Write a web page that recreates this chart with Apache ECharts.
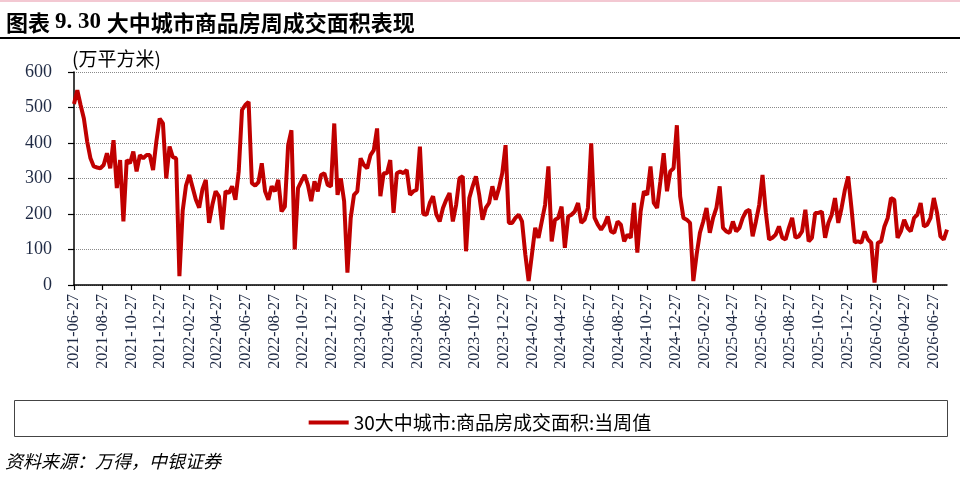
<!DOCTYPE html>
<html>
<head>
<meta charset="utf-8">
<title>30大中城市商品房周成交面积表现</title>
<script src="https://cdn.jsdelivr.net/npm/echarts@6/dist/echarts.min.js"></script>
<style>
  html, body { margin: 0; padding: 0; background: #fff; }
  #chart { width: 960px; height: 498px; }
</style>
</head>
<body>
<div id="chart"></div>
<script>
/* global echarts */
const startDate = '2021-06-27';
const seriesName = '30大中城市:商品房成交面积:当周值';

// x axis tick labels, every 2 months
const tickLabels = [
  '2021-06-27', '2021-08-27', '2021-10-27', '2021-12-27',
  '2022-02-27', '2022-04-27', '2022-06-27', '2022-08-27', '2022-10-27', '2022-12-27',
  '2023-02-27', '2023-04-27', '2023-06-27', '2023-08-27', '2023-10-27', '2023-12-27',
  '2024-02-27', '2024-04-27', '2024-06-27', '2024-08-27', '2024-10-27', '2024-12-27',
  '2025-02-27', '2025-04-27', '2025-06-27', '2025-08-27', '2025-10-27', '2025-12-27',
  '2026-02-27', '2026-04-27', '2026-06-27'
];

const yTicks = [0, 100, 200, 300, 400, 500, 600];

// weekly values (万平方米), one per week from startDate
const weeklyArea = [
  510, 549, 507, 469, 404, 357, 334, 331, 329, 338, 371, 329, 408, 273, 352, 179, 352, 343, 376, 320, 366, 357, 366, 366, 324, 404, 469,
  455, 300, 390, 360, 357, 25, 210, 280, 310, 275, 240, 218, 270, 296, 175, 226, 264, 250, 156, 264, 259, 278, 240, 320, 493, 507, 516, 287, 280,
  290, 343, 264, 240, 278, 264, 296, 207, 221, 394, 436, 100, 273, 292, 310, 282, 236, 292, 264, 310, 315, 282, 278, 455, 254, 300,
  236, 35, 189, 254, 264, 357, 338, 329, 366, 380, 441, 250, 315, 315, 352, 203, 315, 320, 315, 324, 254, 264, 268, 390, 200,
  198, 231, 250, 198, 179, 217, 240, 259, 179, 226, 301, 306, 95, 245, 278, 306, 254, 184, 217, 231, 278, 240, 273, 315, 394,
  175, 175, 189, 198, 179, 86, 11, 86, 161, 133, 179, 226, 334, 123, 184, 189, 221, 105, 193, 198, 207, 231, 175, 184, 217, 399, 190,
  170, 156, 170, 193, 151, 147, 179, 170, 123, 142, 133, 231, 91, 207, 264, 254, 334, 231, 217, 292, 371, 264, 320, 329, 450, 250,
  189, 184, 175, 11, 86, 147, 179, 217, 147, 189, 217, 278, 161, 151, 147, 179, 151, 161, 189, 207, 212, 137, 179, 226, 310, 205,
  128, 133, 142, 165, 133, 128, 161, 189, 133, 137, 151, 212, 123, 133, 203, 203, 207, 133, 175, 198, 245, 175, 217, 268, 306, 217, 120,
  123, 119, 151, 128, 119, 7, 119, 123, 165, 189, 245, 240, 133, 151, 184, 161, 151, 189, 198, 231, 165, 170, 189, 245, 203, 137, 128, 156
];

const DAY = 86400000;
const serif = '"Liberation Serif", "Times New Roman", serif';
const cjk = '"Noto Sans CJK SC", sans-serif';
const labelColor = '#1f2a44';

function dayOffset(str) {
  return Math.round((Date.parse(str) - Date.parse(startDate)) / DAY);
}

const tickDays = tickLabels.map(dayOffset);
const lineData = weeklyArea.map((v, i) => [i * 7, v]);
const lastDay = (weeklyArea.length - 1) * 7;

function initChart() {
  const chart = echarts.init(document.getElementById('chart'), null, { renderer: 'canvas' });

  chart.setOption({
    backgroundColor: '#fff',
    animation: false,
    grid: { left: 74, right: 13, top: 72, bottom: 213 },
    legend: {
      data: [seriesName],
      left: 'center',
      top: 408,
      icon: 'rect',
      itemWidth: 40,
      itemHeight: 4,
      itemGap: 10,
      textStyle: { fontFamily: cjk, fontSize: 19, color: '#000' }
    },
    xAxis: {
      type: 'value',
      min: 0,
      max: lastDay,
      axisLine: { show: true, onZero: false, lineStyle: { color: '#000', width: 1.5 } },
      axisTick: { show: true, customValues: tickDays, length: 5, lineStyle: { color: '#000', width: 1.2 } },
      axisLabel: {
        customValues: tickDays,
        rotate: 90,
        margin: 9,
        fontFamily: serif,
        fontSize: 16,
        color: labelColor,
        formatter: v => tickLabels[tickDays.indexOf(v)] || ''
      },
      splitLine: { show: false }
    },
    yAxis: {
      type: 'value',
      min: yTicks[0],
      max: yTicks[yTicks.length - 1],
      interval: 100,
      axisLine: { show: true, lineStyle: { color: '#000', width: 1.5 } },
      axisTick: { show: true, length: 6, lineStyle: { color: '#000', width: 1.2 } },
      axisLabel: { margin: 22, fontFamily: serif, fontSize: 18, color: labelColor },
      splitLine: { show: true, lineStyle: { color: '#8a8a8a', type: 'dotted', width: 1 } }
    },
    series: [{
      name: seriesName,
      type: 'line',
      data: lineData,
      showSymbol: false,
      symbol: 'none',
      itemStyle: { color: '#c00000' },
      lineStyle: { color: '#c00000', width: 4 }
    }],
    graphic: [
      { type: 'rect', shape: { x: 0, y: 0, width: 960, height: 2 }, style: { fill: '#f3c8d2' } },
      {
        type: 'text', left: 6, top: 11,
        style: {
          text: '{a|图表 }{b|9. 30 }{a|大中城市商品房周成交面积表现}',
          rich: {
            a: { fontFamily: cjk, fontSize: 22, fontWeight: 'bold', fill: '#000' },
            b: { fontFamily: serif, fontSize: 23, fontWeight: 'bold', fill: '#000' }
          }
        }
      },
      { type: 'rect', shape: { x: 0, y: 37, width: 960, height: 2 }, style: { fill: '#000' } },
      {
        type: 'text', left: 72, top: 49,
        style: { text: '(万平方米)', fontFamily: cjk, fontSize: 19, fill: '#000' }
      },
      {
        type: 'rect',
        shape: { x: 14.5, y: 400.5, width: 933, height: 36 },
        style: { fill: 'none', stroke: '#444', lineWidth: 1 }
      },
      {
        type: 'text', left: 5, top: 452,
        style: { text: '资料来源：万得，中银证券', fontFamily: cjk, fontSize: 18, fontStyle: 'italic', fill: '#000' }
      }
    ]
  });
  return chart;
}

initChart();
</script>
</body>
</html>
